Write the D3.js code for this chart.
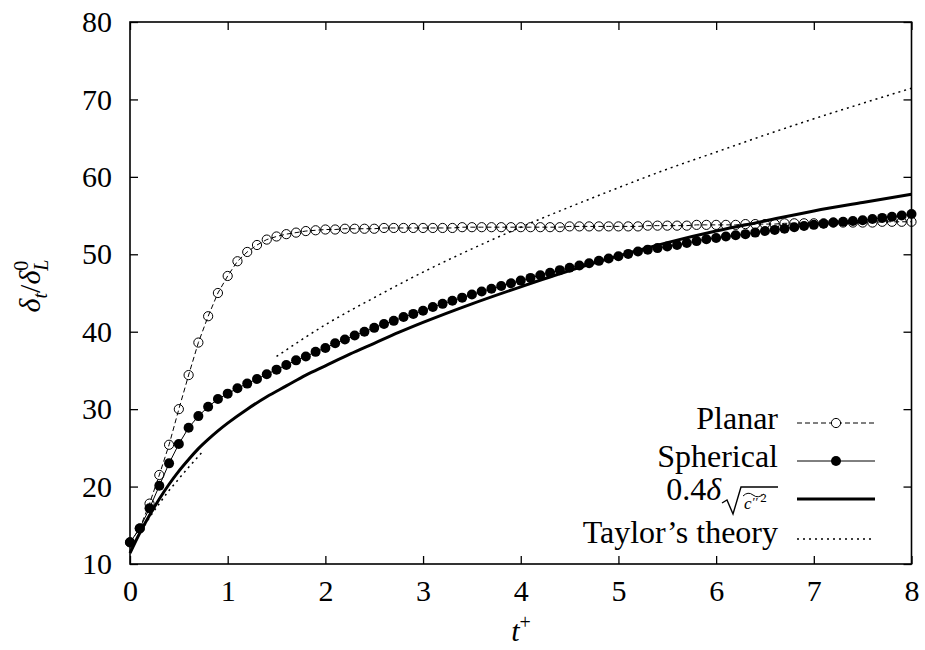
<!DOCTYPE html>
<html>
<head>
<meta charset="utf-8">
<script src="https://cdn.jsdelivr.net/npm/d3@7"></script>
<style>
  body { margin: 0; background: #fff; }
  svg { display: block; }
  svg text { font-family: 'Liberation Serif', 'DejaVu Serif', 'Noto Serif', Tinos, 'Times New Roman', Times, FreeSerif, serif; }
</style>
</head>
<body>
<div id="chart"></div>
<script>
// sample times shared by the planar and spherical runs
const tSamples = [0, 0.1, 0.2, 0.3, 0.4, 0.5, 0.6, 0.7, 0.8, 0.9,
  1.0, 1.1, 1.2, 1.3, 1.4, 1.5, 1.6, 1.7, 1.8, 1.9,
  2.0, 2.1, 2.2, 2.3, 2.4, 2.5, 2.6, 2.7, 2.8, 2.9,
  3.0, 3.1, 3.2, 3.3, 3.4, 3.5, 3.6, 3.7, 3.8, 3.9,
  4.0, 4.1, 4.2, 4.3, 4.4, 4.5, 4.6, 4.7, 4.8, 4.9,
  5.0, 5.1, 5.2, 5.3, 5.4, 5.5, 5.6, 5.7, 5.8, 5.9,
  6.0, 6.1, 6.2, 6.3, 6.4, 6.5, 6.6, 6.7, 6.8, 6.9,
  7.0, 7.1, 7.2, 7.3, 7.4, 7.5, 7.6, 7.7, 7.8, 7.9, 8.0];

const planar = [12.8, 14.6, 17.8, 21.5, 25.4, 30.0, 34.4, 38.6, 42.0, 45.0,
  47.2, 49.1, 50.3, 51.2, 51.9, 52.3, 52.6, 52.8, 53.0, 53.1,
  53.2, 53.2, 53.3, 53.3, 53.3, 53.3, 53.4, 53.4, 53.4, 53.4,
  53.4, 53.4, 53.4, 53.4, 53.5, 53.5, 53.5, 53.5, 53.5, 53.5,
  53.5, 53.5, 53.5, 53.5, 53.5, 53.6, 53.6, 53.6, 53.6, 53.6,
  53.6, 53.6, 53.6, 53.7, 53.7, 53.7, 53.7, 53.7, 53.8, 53.8,
  53.8, 53.8, 53.8, 53.9, 53.9, 53.9, 53.9, 54.0, 54.0, 54.0,
  54.0, 54.0, 54.1, 54.1, 54.1, 54.1, 54.1, 54.2, 54.2, 54.2, 54.2];

const spherical = [12.8, 14.6, 17.2, 20.1, 23.0, 25.5, 27.6, 29.1, 30.3, 31.3,
  32.0, 32.7, 33.3, 33.9, 34.5, 35.1, 35.7, 36.3, 36.8, 37.4,
  37.9, 38.5, 39.0, 39.5, 40.0, 40.5, 41.0, 41.4, 41.9, 42.3,
  42.7, 43.2, 43.6, 44.0, 44.4, 44.8, 45.2, 45.55, 45.9, 46.25,
  46.6, 46.95, 47.3, 47.6, 47.95, 48.25, 48.55, 48.85, 49.15, 49.45,
  49.75, 50.05, 50.35, 50.6, 50.8, 51.0, 51.2, 51.45, 51.7, 51.95,
  52.1, 52.3, 52.45, 52.6, 52.8, 53.0, 53.15, 53.3, 53.5, 53.65,
  53.8, 53.95, 54.1, 54.2, 54.3, 54.4, 54.55, 54.7, 54.85, 55.0, 55.2];

// 0.4 delta_sqrt(c''^2) curve
const rmsT = [0, 0.1, 0.2, 0.3, 0.4, 0.5, 0.6, 0.7, 0.8, 0.9, 1.0, 1.2, 1.4, 1.6, 1.8,
  2.0, 2.25, 2.5, 2.75, 3.0, 3.5, 4.0, 4.5, 5.0, 5.5, 6.0, 6.5, 7.0, 7.5, 8.0];
const rmsVal = [11.4, 14.0, 16.3, 18.4, 20.3, 22.0, 23.5, 24.9, 26.1, 27.2, 28.2, 30.0, 31.6, 33.0, 34.4,
  35.6, 37.1, 38.5, 39.9, 41.2, 43.6, 45.8, 47.9, 49.8, 51.5, 53.0, 54.3, 55.6, 56.7, 57.75];

// Taylor's theory, short-time and long-time pieces
const taylorShortT = [0.15, 0.2, 0.3, 0.4, 0.5, 0.6, 0.7, 0.75];
const taylorShortVal = [15.0, 16.0, 17.8, 19.5, 21.0, 22.5, 23.9, 24.6];
const taylorLongT = [1.5, 2.0, 2.5, 3.0, 3.5, 4.0, 4.5, 5.0, 5.5, 6.0, 6.5, 7.0, 7.5, 8.0];
const taylorLongVal = [36.8, 40.9, 44.4, 47.7, 50.7, 53.5, 56.1, 58.6, 61.0, 63.2, 65.4, 67.5, 69.5, 71.45];

const xTicks = [0, 1, 2, 3, 4, 5, 6, 7, 8];
const yTicks = [10, 20, 30, 40, 50, 60, 70, 80];

const width = 925;
const height = 650;
const margin = { top: 22, right: 13.5, bottom: 86, left: 130 };

const svg = d3.select('#chart')
  .append('svg')
  .attr('width', width)
  .attr('height', height);

const x = d3.scaleLinear().domain([0, 8]).range([margin.left, width - margin.right]);
const y = d3.scaleLinear().domain([10, 80]).range([height - margin.bottom, margin.top]);

const zip = (ts, vs) => ts.map((t, i) => [t, vs[i]]);

// axes, ticks pointing inward on all four sides
const styleAxis = g => {
  g.select('.domain').remove();
  g.selectAll('.tick line').attr('stroke', '#000').attr('stroke-width', 1.3);
  g.selectAll('.tick text').attr('fill', '#000');
  g.attr('font-family', null).attr('font-size', 30);
};

svg.append('g')
  .attr('transform', `translate(0,${y(10)})`)
  .call(d3.axisBottom(x).tickValues(xTicks).tickSize(-8).tickPadding(16).tickFormat(d3.format('d')))
  .call(styleAxis);

svg.append('g')
  .attr('transform', `translate(0,${y(80)})`)
  .call(d3.axisTop(x).tickValues(xTicks).tickSize(-8).tickFormat(''))
  .call(styleAxis);

svg.append('g')
  .attr('transform', `translate(${x(0)},0)`)
  .call(d3.axisLeft(y).tickValues(yTicks).tickSize(-8).tickPadding(18).tickFormat(d3.format('d')))
  .call(styleAxis);

svg.append('g')
  .attr('transform', `translate(${x(8)},0)`)
  .call(d3.axisRight(y).tickValues(yTicks).tickSize(-8).tickFormat(''))
  .call(styleAxis);

svg.append('rect')
  .attr('x', x(0))
  .attr('y', y(80))
  .attr('width', x(8) - x(0))
  .attr('height', y(10) - y(80))
  .attr('fill', 'none')
  .attr('stroke', '#000')
  .attr('stroke-width', 1.6);

// axis titles
const xLabel = svg.append('text')
  .attr('x', 521)
  .attr('y', 641)
  .attr('text-anchor', 'middle')
  .attr('font-size', 30);
xLabel.append('tspan').attr('font-style', 'italic').text('t');
xLabel.append('tspan').attr('font-size', 20).attr('dy', -12).text('+');

const yLabel = svg.append('text')
  .attr('transform', 'translate(40,286) rotate(-90)')
  .attr('text-anchor', 'middle')
  .attr('font-size', 30);
yLabel.append('tspan').attr('font-style', 'italic').text('δ');
yLabel.append('tspan').attr('font-style', 'italic').attr('font-size', 20).attr('dy', 7).text('t');
yLabel.append('tspan').attr('dy', -7).text('/');
yLabel.append('tspan').attr('font-style', 'italic').text('δ');
yLabel.append('tspan').attr('font-size', 20).attr('dy', -12).text('0');
yLabel.append('tspan').attr('font-style', 'italic').attr('font-size', 20).attr('dx', -10).attr('dy', 20).text('L');

// curves
const straight = d3.line().x(d => x(d[0])).y(d => y(d[1]));
const smooth = d3.line().x(d => x(d[0])).y(d => y(d[1])).curve(d3.curveMonotoneX);

svg.append('path')
  .datum(zip(taylorShortT, taylorShortVal))
  .attr('d', smooth)
  .attr('fill', 'none')
  .attr('stroke', '#000')
  .attr('stroke-width', 1.5)
  .attr('stroke-dasharray', '2,4');

svg.append('path')
  .datum(zip(taylorLongT, taylorLongVal))
  .attr('d', smooth)
  .attr('fill', 'none')
  .attr('stroke', '#000')
  .attr('stroke-width', 1.5)
  .attr('stroke-dasharray', '2,4');

svg.append('path')
  .datum(zip(rmsT, rmsVal))
  .attr('d', smooth)
  .attr('fill', 'none')
  .attr('stroke', '#000')
  .attr('stroke-width', 3);

const planarPts = zip(tSamples, planar);
const spherePts = zip(tSamples, spherical);

svg.append('path')
  .datum(planarPts)
  .attr('d', straight)
  .attr('fill', 'none')
  .attr('stroke', '#000')
  .attr('stroke-width', 1)
  .attr('stroke-dasharray', '5,3');

svg.append('g')
  .selectAll('circle')
  .data(planarPts)
  .join('circle')
  .attr('cx', d => x(d[0]))
  .attr('cy', d => y(d[1]))
  .attr('r', 4.6)
  .attr('fill', 'none')
  .attr('stroke', '#000')
  .attr('stroke-width', 1);

svg.append('path')
  .datum(spherePts)
  .attr('d', straight)
  .attr('fill', 'none')
  .attr('stroke', '#000')
  .attr('stroke-width', 1);

svg.append('g')
  .selectAll('circle')
  .data(spherePts)
  .join('circle')
  .attr('cx', d => x(d[0]))
  .attr('cy', d => y(d[1]))
  .attr('r', 5)
  .attr('fill', '#000');

// legend
const legX1 = 797;
const legX2 = 875;
const legMid = (legX1 + legX2) / 2;
const legText = 778;
const rows = [423, 461, 499, 539];

const legend = svg.append('g').attr('font-size', 32);

legend.append('text').attr('x', legText).attr('y', rows[0] + 6).attr('text-anchor', 'end').text('Planar');
legend.append('line').attr('x1', legX1).attr('x2', legX2).attr('y1', rows[0]).attr('y2', rows[0])
  .attr('stroke', '#000').attr('stroke-width', 1).attr('stroke-dasharray', '5,3');
legend.append('circle').attr('cx', legMid).attr('cy', rows[0]).attr('r', 4.6)
  .attr('fill', '#fff').attr('stroke', '#000');

legend.append('text').attr('x', legText).attr('y', rows[1] + 6).attr('text-anchor', 'end').text('Spherical');
legend.append('line').attr('x1', legX1).attr('x2', legX2).attr('y1', rows[1]).attr('y2', rows[1])
  .attr('stroke', '#000').attr('stroke-width', 1);
legend.append('circle').attr('cx', legMid).attr('cy', rows[1]).attr('r', 5).attr('fill', '#000');

// 0.4 delta with a square-root subscript
const rmsLabel = legend.append('text').attr('x', 721).attr('y', rows[2] + 1).attr('text-anchor', 'end');
rmsLabel.append('tspan').text('0.4');
rmsLabel.append('tspan').attr('font-style', 'italic').text('δ');
legend.append('path')
  .attr('d', 'M722,503 L727,500 L733,514 L741,487 L778,487')
  .attr('fill', 'none')
  .attr('stroke', '#000')
  .attr('stroke-width', 1.4);
const rad = legend.append('text').attr('x', 744).attr('y', 509).attr('font-size', 17);
rad.append('tspan').attr('font-style', 'italic').text('c');
rad.append('tspan').attr('font-size', 13).attr('dx', 1).attr('dy', -3).text('′′');
rad.append('tspan').attr('font-size', 13).attr('dx', 2).attr('dy', -4).text('2');
legend.append('path')
  .attr('d', 'M743,496 Q748,491 753,495 T764,494')
  .attr('fill', 'none')
  .attr('stroke', '#000')
  .attr('stroke-width', 1);
legend.append('line').attr('x1', legX1).attr('x2', legX2).attr('y1', rows[2]).attr('y2', rows[2])
  .attr('stroke', '#000').attr('stroke-width', 3);

legend.append('text').attr('x', legText).attr('y', rows[3] + 4).attr('text-anchor', 'end').text('Taylor’s theory');
legend.append('line').attr('x1', legX1).attr('x2', legX2).attr('y1', rows[3]).attr('y2', rows[3])
  .attr('stroke', '#000').attr('stroke-width', 1.5).attr('stroke-dasharray', '2,4');
</script>
</body>
</html>
